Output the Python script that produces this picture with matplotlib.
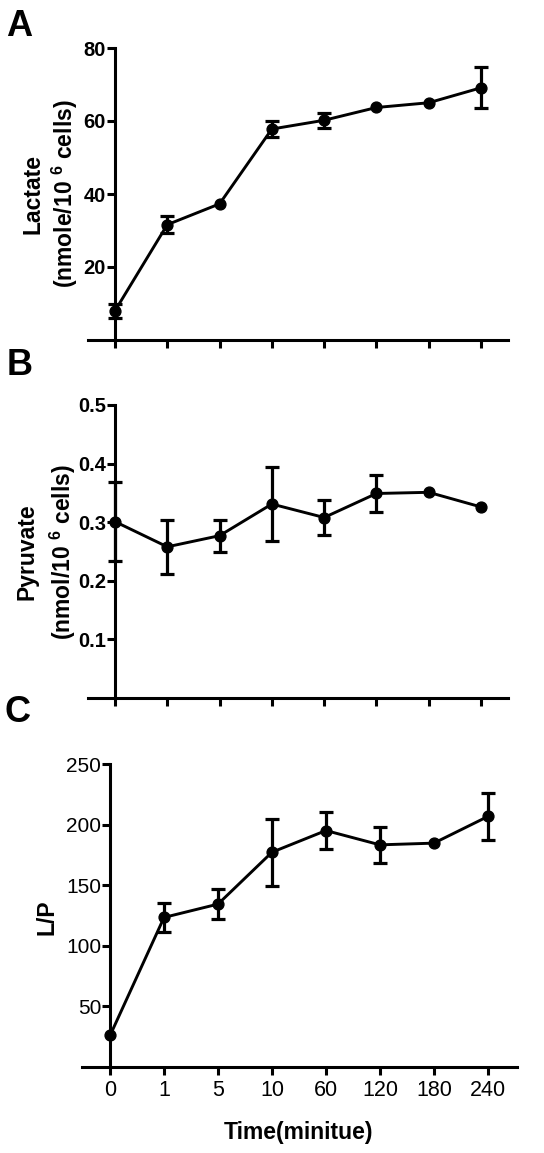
import numpy as np
import matplotlib
matplotlib.use('Agg')
import matplotlib.pyplot as plt

plt.rcParams['font.family'] = ['Liberation Sans', 'DejaVu Sans']
plt.rcParams['mathtext.fontset'] = 'custom'
plt.rcParams['mathtext.rm'] = 'Liberation Sans:bold'
plt.rcParams['mathtext.bf'] = 'Liberation Sans:bold'
plt.rcParams['mathtext.default'] = 'bf'

# data
time_labels = ['0', '1', '5', '10', '60', '120', '180', '240']
lactate = [8.0, 31.6, 37.3, 57.8, 60.2, 63.7, 65.0, 69.1]
lactate_err = [2.0, 2.4, 0, 2.2, 2.0, 0, 0, 5.6]
pyruvate = [0.301, 0.258, 0.277, 0.331, 0.308, 0.349, 0.351, 0.326]
pyruvate_err = [0.067, 0.046, 0.027, 0.063, 0.030, 0.031, 0, 0]
lp_ratio = [26, 123.4, 134.4, 177.2, 195.1, 183.3, 184.7, 206.7]
lp_err = [0, 12.2, 12.7, 27.5, 15.0, 14.7, 0, 19.0]

W, H = 544, 1153
fig = plt.figure(figsize=(W / 100, H / 100), dpi=100)


def px_axes(x0, x1, y0, y1):
    return fig.add_axes([x0 / W, 1 - y1 / H, (x1 - x0) / W, (y1 - y0) / H])


def panel(ax, vals, errs, ymax, yticks, xlim, xlabels):
    x = np.arange(len(vals))
    vals = np.array(vals, dtype=float)
    errs = np.array(errs, dtype=float)
    ax.plot(x, vals, color='k', lw=2.1, marker='o', ms=7.8, zorder=3, clip_on=False)
    m = errs > 0
    ax.errorbar(x[m], vals[m], yerr=errs[m], fmt='none', ecolor='k',
                elinewidth=2.3, capsize=4.8, capthick=2.3, zorder=3, clip_on=False)
    ax.set_xlim(*xlim)
    ax.set_ylim(0, ymax)
    ax.set_yticks(yticks)
    ax.set_xticks(x)
    for s in ['top', 'right']:
        ax.spines[s].set_visible(False)
    ax.spines['left'].set_position(('data', 0))
    for s in ['left', 'bottom']:
        ax.spines[s].set_linewidth(2.2)
    ax.tick_params(axis='both', width=2.2, length=5.5)
    ax.tick_params(axis='y', pad=1)
    ax.tick_params(axis='x', pad=4)
    if xlabels:
        ax.set_xticklabels(time_labels, fontsize=15.5)
    else:
        ax.set_xticklabels([])


axA = px_axes(88, 508, 48, 340)
panel(axA, lactate, lactate_err, 80, [20, 40, 60, 80], (-0.516, 7.516), False)
axA.set_yticklabels(['20', '40', '60', '80'], fontweight='bold', fontsize=14.5)

axB = px_axes(88, 508, 405, 698)
panel(axB, pyruvate, pyruvate_err, 0.5, [0.1, 0.2, 0.3, 0.4, 0.5], (-0.516, 7.516), False)
axB.set_yticklabels(['0.1', '0.2', '0.3', '0.4', '0.5'], fontweight='bold', fontsize=14.5)

axC = px_axes(82, 517, 764, 1067)
panel(axC, lp_ratio, lp_err, 250, [50, 100, 150, 200, 250], (-0.52, 7.54), True)
axC.set_yticklabels(['50', '100', '150', '200', '250'], fontsize=15)

# y labels
fig.text(33 / W, 1 - 194 / H, 'Lactate', rotation=90, ha='center', va='center',
         fontsize=16.5, fontweight='bold')
fig.text(65 / W, 1 - 194 / H, '(nmole/10 $^{6}$ cells)', rotation=90, ha='center', va='center',
         fontsize=16.5, fontweight='bold')
fig.text(27 / W, 1 - 552 / H, 'Pyruvate', rotation=90, ha='center', va='center',
         fontsize=16.5, fontweight='bold')
fig.text(63 / W, 1 - 552 / H, '(nmol/10 $^{6}$ cells)', rotation=90, ha='center', va='center',
         fontsize=16.5, fontweight='bold')
fig.text(47 / W, 1 - 917 / H, 'L/P', rotation=90, ha='center', va='center',
         fontsize=16.5, fontweight='bold')

fig.text(299 / W, 1 - 1133 / H, 'Time(minitue)', ha='center', va='center',
         fontsize=16.5, fontweight='bold')

# panel letters
fig.text(6 / W, 1 - 36 / H, 'A', fontsize=26, fontweight='bold', va='baseline')
fig.text(7 / W, 1 - 375 / H, 'B', fontsize=26, fontweight='bold', va='baseline')
fig.text(5 / W, 1 - 722 / H, 'C', fontsize=26, fontweight='bold', va='baseline')

fig.savefig('out.png', dpi=100)
